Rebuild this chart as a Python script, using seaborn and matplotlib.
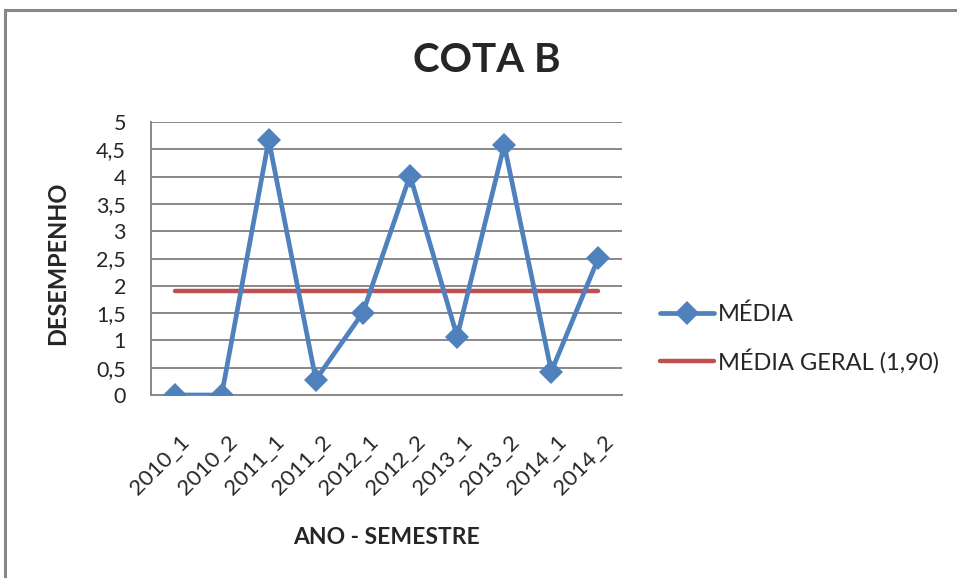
import matplotlib
matplotlib.use("Agg")
from matplotlib import pyplot as plt
from matplotlib.patches import Rectangle
import matplotlib.transforms as mtransforms
import seaborn as sns
import pandas as pd

# dados
semestres = ["2010_1", "2010_2", "2011_1", "2011_2", "2012_1",
             "2012_2", "2013_1", "2013_2", "2014_1", "2014_2"]
media = [0, 0, 4.67, 0.28, 1.51, 4.02, 1.07, 4.58, 0.43, 2.51]
media_geral = 1.90
y_ticks = [0, 0.5, 1, 1.5, 2, 2.5, 3, 3.5, 4, 4.5, 5]

df = pd.DataFrame({"semestre": semestres, "media": media,
                   "geral": [media_geral] * len(semestres)})

sns.set_style("white")
plt.rcParams["font.family"] = ["Lato", "DejaVu Sans"]

blue = "#4F81BD"
red = "#C0504D"
grid = "#888888"

fig = plt.figure(figsize=(9.57, 5.78), dpi=100)
ax = fig.add_axes([151 / 957, 1 - 395 / 578, 471 / 957, 273 / 578])

sns.lineplot(data=df, x="semestre", y="media", ax=ax, color=blue,
             linewidth=3.4, marker="D", markersize=12.5, markeredgewidth=0,
             label="MÉDIA", zorder=4)
sns.lineplot(data=df, x="semestre", y="geral", ax=ax, color=red,
             linewidth=3.2, solid_capstyle="round",
             label="MÉDIA GERAL (1,90)", zorder=3)

ax.set_xlim(-0.5, len(semestres) - 0.5)
ax.set_ylim(0, 5)
ax.set_yticks(y_ticks)
ax.set_yticklabels([f"{v:g}".replace(".", ",") for v in y_ticks])
ax.yaxis.grid(True, color=grid, linewidth=1.4)
ax.set_axisbelow(True)

for s in ["top", "right"]:
    ax.spines[s].set_visible(False)
for s in ["left", "bottom"]:
    ax.spines[s].set_color(grid)
    ax.spines[s].set_linewidth(1.4)

ax.tick_params(axis="y", length=6, width=1.4, color=grid, labelsize=15.5, pad=12)
ax.tick_params(axis="x", length=0, labelsize=16, pad=26)
shift = mtransforms.ScaledTranslation(5 / 100, 0, fig.dpi_scale_trans)
for lbl in ax.get_xticklabels():
    lbl.set_rotation(45)
    lbl.set_ha("right")
    lbl.set_rotation_mode("anchor")
    lbl.set_transform(lbl.get_transform() + shift)

ax.set_xlabel("ANO - SEMESTRE", fontsize=16.5, fontweight="bold")
ax.set_ylabel("DESEMPENHO", fontsize=17, fontweight="bold")
ax.xaxis.set_label_coords(0.5, (395 - 538) / 273)
ax.xaxis.label.set_va("center")
ax.yaxis.set_label_coords((58 - 151) / 471, (395 - 263) / 273)
ax.yaxis.label.set_va("center")

fig.text(487 / 957, 1 - 61 / 578, "COTA B", fontsize=29, fontweight="bold",
         ha="center", va="center")

leg = ax.legend(loc="center left", bbox_to_anchor=(1.08, 0.207), frameon=False,
                fontsize=17, handlelength=2.3, handletextpad=0.15,
                labelspacing=1.0, borderaxespad=0, borderpad=0)

fig.patches.append(Rectangle((5 / 957, -0.1), 1.2, 1.1 - 10 / 578,
                             transform=fig.transFigure, fill=False,
                             edgecolor="#878787", linewidth=2.2))

fig.savefig("out.png", dpi=100)
